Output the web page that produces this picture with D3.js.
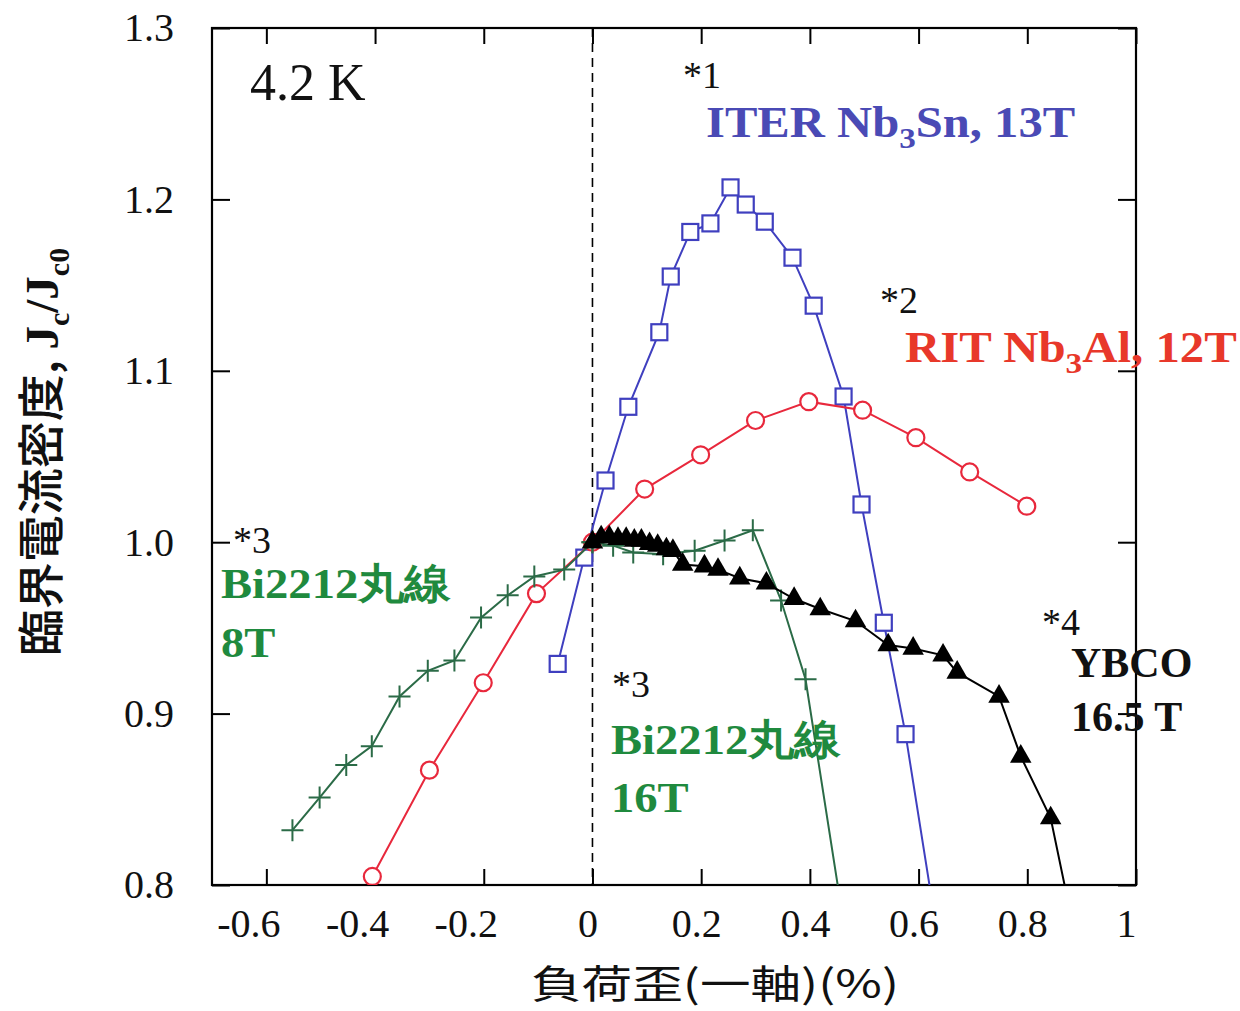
<!DOCTYPE html>
<html>
<head>
<meta charset="utf-8">
<script src="https://cdn.jsdelivr.net/npm/d3@7"></script>
<style>
  body { margin: 0; background: #fff; }
  text { font-family: "Liberation Serif", "Times New Roman", serif; }
</style>
</head>
<body>
<div id="chart"></div>
<script>
// ---- data ----
const xTicks = [-0.6, -0.4, -0.2, 0, 0.2, 0.4, 0.6, 0.8, 1];
const yTicks = [0.8, 0.9, 1.0, 1.1, 1.2, 1.3];

// *1 ITER Nb3Sn, 13T
const iterX = [-0.064, -0.015, 0.024, 0.066, 0.123, 0.144, 0.180, 0.217, 0.254, 0.282, 0.317, 0.368, 0.407, 0.462, 0.495, 0.536, 0.576, 0.625];
const iterY = [0.929, 0.991, 1.036, 1.079, 1.1225, 1.155, 1.181, 1.186, 1.207, 1.197, 1.187, 1.166, 1.138, 1.085, 1.022, 0.953, 0.888, 0.79];

// *2 RIT Nb3Al, 12T
const ritX = [-0.405, -0.300, -0.201, -0.103, 0.0, 0.096, 0.199, 0.300, 0.398, 0.497, 0.595, 0.694, 0.799];
const ritY = [0.805, 0.867, 0.918, 0.970, 1.0, 1.031, 1.051, 1.071, 1.082, 1.077, 1.061, 1.041, 1.021];

// *3 Bi2212 round wire, 8T
const bi8X = [-0.552, -0.502, -0.453, -0.406, -0.355, -0.303, -0.254, -0.205, -0.156, -0.107, -0.052, 0.0];
const bi8Y = [0.832, 0.851, 0.870, 0.881, 0.910, 0.925, 0.931, 0.956, 0.969, 0.980, 0.984, 1.0];

// *3 Bi2212 round wire, 16T
const bi16X = [0.0, 0.038, 0.075, 0.13, 0.188, 0.243, 0.295, 0.347, 0.392, 0.461];
const bi16Y = [1.0, 0.998, 0.994, 0.993, 0.995, 1.001, 1.007, 0.966, 0.920, 0.78];

// *4 YBCO 16.5 T
const ybcoX = [0.0, 0.016, 0.031, 0.047, 0.062, 0.077, 0.090, 0.105, 0.120, 0.136, 0.148, 0.166, 0.206, 0.231, 0.271, 0.320, 0.371, 0.419, 0.484, 0.544, 0.590, 0.645, 0.671, 0.748, 0.788, 0.843, 0.885];
const ybcoY = [1.0, 1.003, 1.003, 1.002, 1.002, 1.001, 1.001, 0.999, 0.998, 0.996, 0.995, 0.987, 0.986, 0.984, 0.979, 0.976, 0.967, 0.961, 0.954, 0.940, 0.938, 0.934, 0.924, 0.910, 0.875, 0.839, 0.775];

// ---- layout ----
const W = 1240, H = 1011;
const margin = { top: 28, right: 104, bottom: 126, left: 212 };
const width = W - margin.left - margin.right,
      height = H - margin.top - margin.bottom;

const BLUE = "#3f3fbf", RED = "#e8283c", GREEN = "#2b6b47", BLACK = "#000";

const svg = d3.select("#chart").append("svg")
  .attr("width", W).attr("height", H);

const g = svg.append("g")
  .attr("transform", `translate(${margin.left},${margin.top})`);

const x = d3.scaleLinear().domain([-0.7, 1.0]).range([0, width]);
const y = d3.scaleLinear().domain([0.8, 1.3]).range([height, 0]);

g.append("clipPath").attr("id", "clip")
  .append("rect").attr("width", width).attr("height", height);

// axes, ticks pointing inward
const fmtX = d => d === 0 ? "0" : d === 1 ? "1" : d3.format(".1f")(d).replace("−", "-");
const xAxisG = g.append("g").attr("class", "ax")
  .attr("transform", `translate(0,${height})`)
  .call(d3.axisBottom(x).tickValues(xTicks).tickSize(-16).tickPadding(24).tickFormat(fmtX));
g.append("g").attr("class", "ax")
  .call(d3.axisTop(x).tickValues(xTicks).tickSize(-16).tickFormat(""));
g.append("g").attr("class", "ax")
  .call(d3.axisLeft(y).tickValues(yTicks).tickSize(-18).tickPadding(38).tickFormat(d3.format(".1f")));
g.append("g").attr("class", "ax")
  .attr("transform", `translate(${width},0)`)
  .call(d3.axisRight(y).tickValues(yTicks).tickSize(-18).tickFormat(""));

g.selectAll(".ax path").remove();
g.selectAll(".ax line").attr("stroke", "#000").attr("stroke-width", 2);
g.selectAll(".ax text")
  .attr("font-size", 40)
  .attr("fill", "#111");
xAxisG.selectAll("text").attr("dx", d => d < 0 ? -18 : d === 1 ? -10 : -5);

// frame
g.append("rect")
  .attr("width", width).attr("height", height)
  .attr("fill", "none").attr("stroke", "#000").attr("stroke-width", 2.2);

// dashed zero line
g.append("line")
  .attr("x1", x(0)).attr("x2", x(0)).attr("y1", 0).attr("y2", height)
  .attr("stroke", "#000").attr("stroke-width", 1.6).attr("stroke-dasharray", "9,6");

const plot = g.append("g").attr("clip-path", "url(#clip)");
const line = d3.line().x(d => x(d[0])).y(d => y(d[1]));
const zip = (a, b) => a.map((v, i) => [v, b[i]]);

function series(xs, ys, color) {
  const pts = zip(xs, ys);
  plot.append("path").datum(pts)
    .attr("fill", "none").attr("stroke", color).attr("stroke-width", 2)
    .attr("d", line);
  return pts;
}

// ITER squares
const iterPts = series(iterX, iterY, BLUE);
plot.selectAll(".sq").data(iterPts).enter().append("rect")
  .attr("x", d => x(d[0]) - 8).attr("y", d => y(d[1]) - 8)
  .attr("width", 16).attr("height", 16)
  .attr("fill", "#fff").attr("stroke", BLUE).attr("stroke-width", 2.2);

// RIT circles
const ritPts = series(ritX, ritY, RED);
plot.selectAll(".ci").data(ritPts).enter().append("circle")
  .attr("cx", d => x(d[0])).attr("cy", d => y(d[1])).attr("r", 8.5)
  .attr("fill", "#fff").attr("stroke", RED).attr("stroke-width", 2.2);

// Bi2212 crosses
function crosses(pts) {
  plot.append("g").selectAll("path").data(pts).enter().append("path")
    .attr("d", d => `M${x(d[0]) - 11},${y(d[1])}h22M${x(d[0])},${y(d[1]) - 11}v22`)
    .attr("stroke", GREEN).attr("stroke-width", 2).attr("fill", "none");
}
crosses(series(bi8X, bi8Y, GREEN));
crosses(series(bi16X, bi16Y, GREEN));

// YBCO triangles
const ybcoPts = series(ybcoX, ybcoY, BLACK);
const tri = d3.symbol().type(d3.symbolTriangle).size(200);
plot.selectAll(".tri").data(ybcoPts).enter().append("path")
  .attr("transform", d => `translate(${x(d[0])},${y(d[1])})`)
  .attr("d", tri).attr("fill", "#000");

// ---- annotations ----
function label(px, py, size, color, bold, sx) {
  return svg.append("text")
    .attr("transform", `translate(${px},${py}) scale(${sx || 1},1)`)
    .attr("font-size", size).attr("fill", color)
    .attr("font-weight", bold ? "bold" : "normal");
}
function sub(t, s, size) {
  t.append("tspan").attr("font-size", size).attr("dy", size * 0.35).text(s);
}
label(250, 100, 52, "#111").text("4.2 K");

label(683, 88, 38, "#111").text("*1");
const l1 = label(706, 137, 44, "#4a4ab5", true, 1.105);
l1.append("tspan").text("ITER Nb");
sub(l1, "3", 30);
l1.append("tspan").attr("dy", -30 * 0.35).text("Sn, 13T");

label(880, 313, 38, "#111").text("*2");
const l2 = label(905, 362, 44, "#e8382a", true, 1.11);
l2.append("tspan").text("RIT Nb");
sub(l2, "3", 30);
l2.append("tspan").attr("dy", -30 * 0.35).text("Al, 12T");

label(233, 553, 38, "#111").text("*3");
label(221, 598, 42, "#1f8a3e", true, 1.11).text("Bi2212丸線");
label(221, 657, 42, "#1f8a3e", true, 1.11).text("8T");

label(612, 697, 38, "#111").text("*3");
label(611, 754, 42, "#1f8a3e", true, 1.11).text("Bi2212丸線");
label(611, 812, 42, "#1f8a3e", true, 1.11).text("16T");

label(1042, 635, 38, "#111").text("*4");
label(1071, 677, 42, "#111", true).text("YBCO");
label(1071, 731, 42, "#111", true).text("16.5 T");

// axis titles
svg.append("text")
  .attr("x", 715).attr("y", 998)
  .attr("text-anchor", "middle")
  .attr("font-size", 39)
  .attr("textLength", 368).attr("lengthAdjust", "spacingAndGlyphs")
  .attr("fill", "#111")
  .style("font-family", "'Noto Sans CJK JP'")
  .text("負荷歪(一軸)(%)");

const yt = svg.append("text")
  .attr("transform", "translate(58,452) rotate(-90)")
  .attr("text-anchor", "middle")
  .attr("font-size", 47).attr("fill", "#111");
yt.append("tspan").style("font-family", "'Noto Sans CJK JP'").attr("font-weight", 500).text("臨界電流密度, ");
yt.append("tspan").attr("font-weight", "bold").text("J");
yt.append("tspan").attr("font-weight", "bold").attr("font-size", 30).attr("dy", 11).text("c");
yt.append("tspan").attr("font-weight", "bold").attr("dy", -11).text("/J");
yt.append("tspan").attr("font-weight", "bold").attr("font-size", 30).attr("dy", 11).text("c0");
</script>
</body>
</html>
